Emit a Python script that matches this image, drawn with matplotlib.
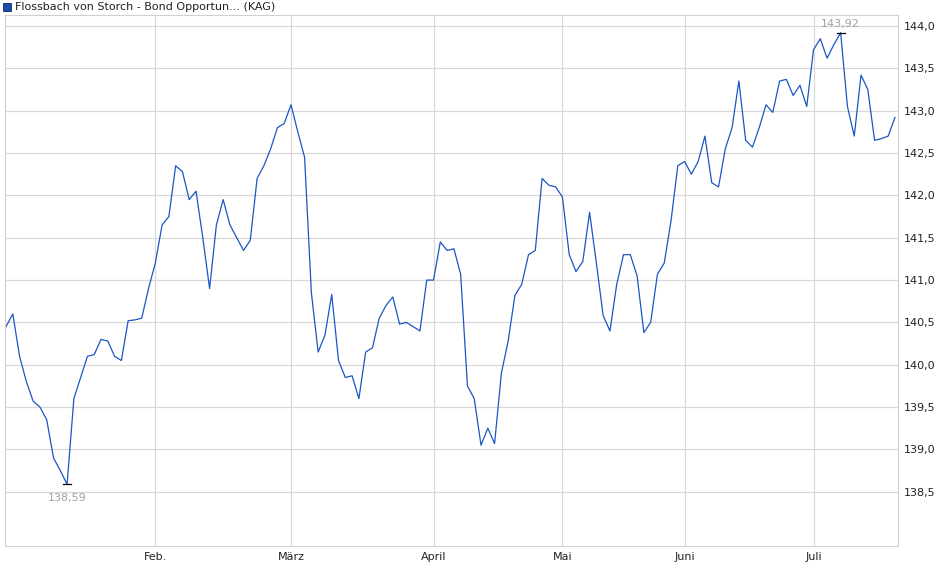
import matplotlib
matplotlib.use("Agg")
import matplotlib.pyplot as plt
from matplotlib.ticker import FuncFormatter

values = [140.45,140.6,140.1,139.8,139.57,139.5,139.35,138.9,138.75,138.59,
          139.6,139.85,140.1,140.12,140.3,140.28,140.1,140.05,140.52,140.53,
          140.55,140.9,141.2,141.65,141.75,142.35,142.28,141.95,142.05,141.5,
          140.9,141.65,141.95,141.65,141.5,141.35,141.47,142.2,142.35,142.55,
          142.8,142.85,143.07,142.75,142.45,140.85,140.15,140.35,140.83,140.05,
          139.85,139.87,139.6,140.15,140.2,140.55,140.7,140.8,140.48,140.5,
          140.45,140.4,141.0,141.0,141.45,141.35,141.37,141.07,139.75,139.6,
          139.05,139.25,139.07,139.9,140.28,140.82,140.95,141.3,141.35,142.2,
          142.12,142.1,141.98,141.3,141.1,141.22,141.8,141.2,140.58,140.4,
          140.95,141.3,141.3,141.05,140.38,140.5,141.07,141.2,141.7,142.35,
          142.4,142.25,142.4,142.7,142.15,142.1,142.55,142.8,143.35,142.65,
          142.57,142.8,143.07,142.98,143.35,143.37,143.18,143.3,143.05,143.72,
          143.85,143.62,143.78,143.92,143.05,142.7,143.42,143.25,142.65,142.67,
          142.7,142.92]
month_labels = ["Feb.", "März", "April", "Mai", "Juni", "Juli"]
month_index = [22, 42, 63, 82, 100, 119]
yticks = [138.5, 139.0, 139.5, 140.0, 140.5, 141.0, 141.5, 142.0, 142.5, 143.0, 143.5, 144.0]
title = "Flossbach von Storch - Bond Opportun... (KAG)"

fig = plt.figure(figsize=(9.4, 5.79), dpi=100)
ax = fig.add_axes([5/940, 33/579, 893/940, 531/579])
x = list(range(len(values)))
ax.plot(x, values, color="#1a56c4", lw=0.9)
ax.set_xlim(-0.15, len(values) - 1 + 0.45)
ax.set_ylim(137.86, 144.13)
ax.set_xticks(month_index)
ax.set_xticklabels(month_labels)
ax.set_yticks(yticks)
ax.yaxis.set_major_formatter(FuncFormatter(lambda v, p: f"{v:.1f}".replace(".", ",")))
ax.yaxis.tick_right()
ax.tick_params(axis="both", length=0, labelsize=8, colors="#222222", pad=4)
ax.grid(True, color="#d8d8d8", lw=0.9)
for s in ax.spines.values():
    s.set_color("#d0d0d0")

imin = values.index(min(values))
imax = values.index(max(values))
for i, va, off in [(imin, "top", -6), (imax, "bottom", 3)]:
    ax.plot([i - 0.6, i + 0.6], [values[i]] * 2, color="black", lw=0.9)
    ax.annotate(f"{values[i]:.2f}".replace(".", ","), (i, values[i]),
                xytext=(0, off), textcoords="offset points", ha="center",
                va=va, fontsize=8, color="#a0a0a0")

fig.patches.append(plt.Rectangle((3/940, 1 - 11/579), 8/940, 8/579,
                                 transform=fig.transFigure, facecolor="#1a4fa8",
                                 edgecolor="#0a2a6a", lw=0.6))
fig.text(15/940, 1 - 7/579, title, fontsize=8, va="center", ha="left", color="#222222")
fig.savefig("out.png", dpi=100)
